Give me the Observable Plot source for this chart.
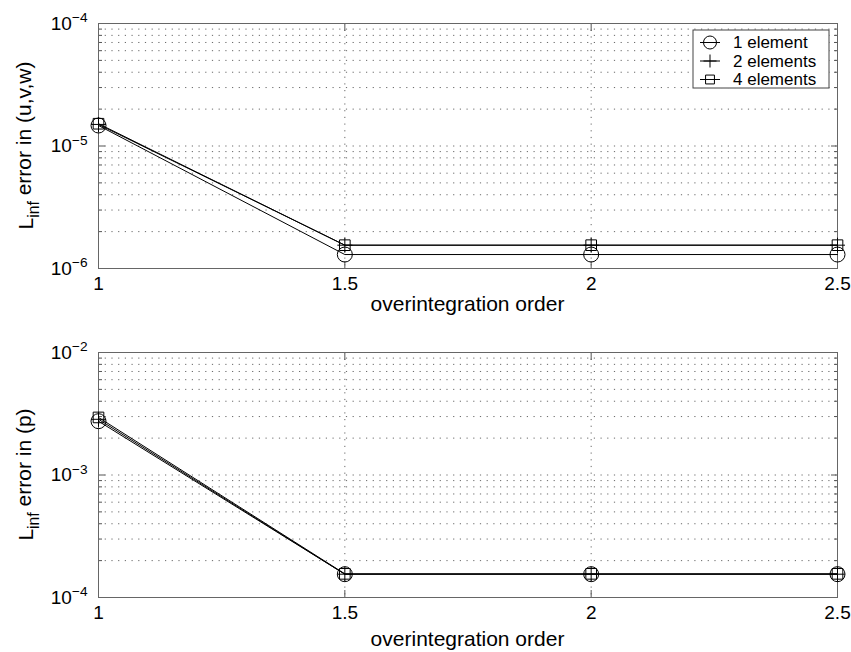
<!DOCTYPE html>
<html><head><meta charset="utf-8">
<script src="https://cdn.jsdelivr.net/npm/d3@7"></script>
<script src="https://cdn.jsdelivr.net/npm/@observablehq/plot@0.6"></script>
<style>
body{margin:0;background:#fff;}
#chart{width:851px;height:652px;font-family:"Liberation Sans",Arial,sans-serif;}
#chart svg{display:block;}
</style></head><body><div id="chart"></div>
<script>
// ---- data ----
const order = [1, 1.5, 2, 2.5];
const xTicks = [1, 1.5, 2, 2.5];
const seriesNames = ["1 element", "2 elements", "4 elements"];
const velOne  = [1.47e-5, 1.3e-6, 1.3e-6, 1.3e-6];
const velTwo  = [1.50e-5, 1.55e-6, 1.55e-6, 1.55e-6];
const velFour = [1.52e-5, 1.55e-6, 1.55e-6, 1.55e-6];
const presOne  = [2.75e-3, 1.55e-4, 1.55e-4, 1.55e-4];
const presTwo  = [2.85e-3, 1.55e-4, 1.55e-4, 1.55e-4];
const presFour = [2.95e-3, 1.56e-4, 1.56e-4, 1.56e-4];
const velDomain = [1e-6, 1e-4];
const presDomain = [1e-4, 1e-2];
const velLabel = ["L", "inf", " error in (u,v,w)"];
const presLabel = ["L", "inf", " error in (p)"];
const xLabel = "overintegration order";

const FONT = '"Liberation Sans",Arial,sans-serif';
const plusSymbol = {draw(ctx, size){ const r = Math.sqrt(size/Math.PI); ctx.moveTo(-r,0); ctx.lineTo(r,0); ctx.moveTo(0,-r); ctx.lineTo(0,r); }};
const symbols = ["circle", plusSymbol, "square"];
const radii = [7.5, 7.5, 6];

function panel(seriesVals, domain, labelParts, mt, mb, xLabelGap, withLegend) {
  const rows = [];
  seriesVals.forEach((vals, s) => vals.forEach((v, i) => rows.push({series: seriesNames[s], x: order[i], y: v})));
  const e0 = Math.round(Math.log10(domain[0])), e1 = Math.round(Math.log10(domain[1]));
  const decades = d3.range(e0, e1 + 1).map(e => Math.pow(10, e));
  const minor = [];
  for (let e = e0; e < e1; e++) for (let k = 2; k <= 9; k++) minor.push(k * Math.pow(10, e));
  const gridStyle = {stroke: "#444", strokeOpacity: 0.8, strokeDasharray: "1.2,5.5"};
  const marks = [
    Plot.gridY(minor.concat(decades.slice(1, -1)), gridStyle),
    Plot.gridX([1.5, 2], gridStyle),
    Plot.axisY(minor, {anchor: "left", tickSize: -4, fill: "none", label: null, stroke: "#555"}),
    Plot.axisY(minor, {anchor: "right", tickSize: -4, fill: "none", label: null, stroke: "#555"}),
    Plot.axisY(decades, {anchor: "left", tickSize: -7, fill: "none", label: null, stroke: "#555"}),
    Plot.axisY(decades, {anchor: "right", tickSize: -7, fill: "none", label: null, stroke: "#555"}),
    Plot.axisY(decades, {anchor: "left", tickSize: 0, tickPadding: 11, label: null, fontSize: 19,
      tickFormat: d => "10^" + Math.round(Math.log10(d))}),
    Plot.axisX(xTicks, {anchor: "bottom", tickSize: -7, fill: "none", label: null, stroke: "#555"}),
    Plot.axisX(xTicks, {anchor: "top", tickSize: -7, fill: "none", label: null, stroke: "#555"}),
    Plot.axisX(xTicks, {anchor: "bottom", tickSize: 0, tickPadding: 8, label: null, fontSize: 19, tickFormat: d => String(d)}),
    Plot.frame({stroke: "#666"})
  ];
  seriesNames.forEach((name, s) => {
    const data = rows.filter(r => r.series === name);
    marks.push(Plot.line(data, {x: "x", y: "y", stroke: "black", strokeWidth: 1}));
    marks.push(Plot.dot(data, {x: "x", y: "y", symbol: symbols[s], r: radii[s], stroke: "black", fill: "none", strokeWidth: 1}));
  });
  const svg = Plot.plot({
    width: 851, height: 326,
    marginLeft: 98, marginRight: 14, marginTop: mt, marginBottom: mb,
    x: {domain: [1, 2.5]},
    y: {type: "log", domain},
    style: {fontFamily: FONT, fontSize: "19px", color: "black", background: "white", overflow: "visible"},
    marks
  });
  const s = d3.select(svg);
  // superscript exponents
  s.selectAll('g[aria-label="y-axis tick label"] text').each(function() {
    const t = d3.select(this);
    const txt = t.text();
    if (!txt.startsWith("10^")) return;
    const exp = txt.slice(3).replace("-", "\u2212");
    t.text(null);
    t.append("tspan").text("10");
    t.append("tspan").attr("dy", "-0.55em").attr("font-size", "0.72em").text(exp);
  });
  const H = 326, top = mt, bottom = H - mb;
  // y label
  const yl = s.append("text")
    .attr("transform", `translate(33,${(top + bottom) / 2}) rotate(-90)`)
    .attr("text-anchor", "middle").attr("font-size", 21).attr("fill", "black").attr("font-family", FONT);
  yl.append("tspan").text(labelParts[0]);
  yl.append("tspan").attr("dy", "0.35em").attr("font-size", "0.75em").text(labelParts[1]);
  yl.append("tspan").attr("dy", "-0.35em").text(labelParts[2]);
  // x label
  s.append("text").attr("x", (98 + 851 - 14) / 2).attr("y", bottom + xLabelGap)
    .attr("text-anchor", "middle").attr("font-size", 21).attr("fill", "black").attr("font-family", FONT)
    .text(xLabel);
  if (withLegend) {
    const g = s.append("g").attr("transform", "translate(693,30)");
    g.append("rect").attr("width", 136).attr("height", 58).attr("fill", "white").attr("stroke", "#444");
    seriesNames.forEach((name, i) => {
      const cy = 12.5 + i * 18.5;
      g.append("line").attr("x1", 7).attr("x2", 27).attr("y1", cy).attr("y2", cy).attr("stroke", "black");
      const sym = typeof symbols[i] === "string" ? (symbols[i] === "circle" ? d3.symbolCircle : d3.symbolSquare) : symbols[i];
      g.append("path").attr("transform", `translate(17,${cy})`)
        .attr("d", d3.symbol(sym, Math.PI * (radii[i] - 1) * (radii[i] - 1))())
        .attr("fill", "none").attr("stroke", "black");
      g.append("text").attr("x", 40).attr("y", cy).attr("dy", "0.35em").attr("font-size", 17)
        .attr("text-anchor", "start")
        .attr("font-family", FONT).attr("fill", "black").text(name);
    });
  }
  return svg;
}

const root = document.getElementById("chart");
root.appendChild(panel([velOne, velTwo, velFour], velDomain, velLabel, 23, 58, 43, true));
root.appendChild(panel([presOne, presTwo, presFour], presDomain, presLabel, 26, 55, 49, false));
</script>
</body></html>
